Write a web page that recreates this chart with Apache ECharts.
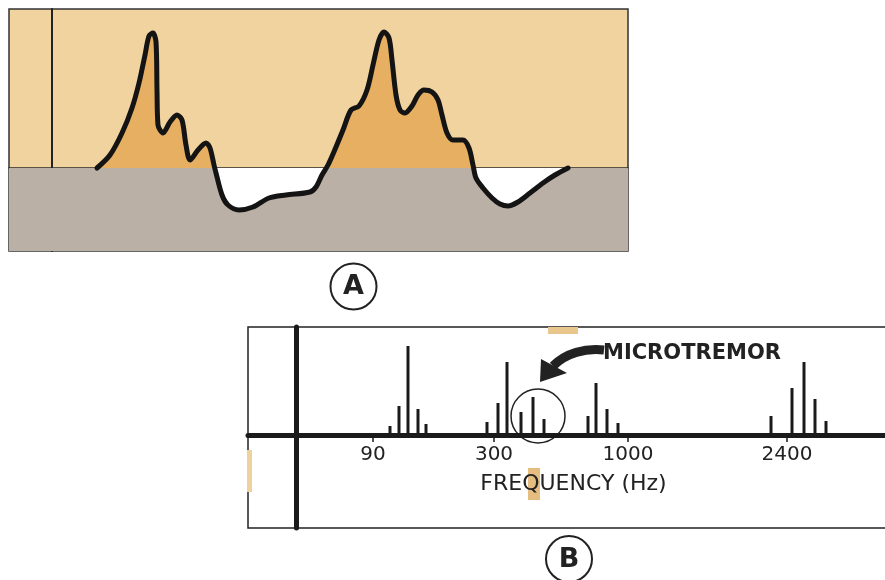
<!DOCTYPE html>
<html><head><meta charset="utf-8">
<script src="https://cdn.jsdelivr.net/npm/echarts@6/dist/echarts.min.js"></script>
<style>html,body{margin:0;padding:0;background:#fff}#c{width:885px;height:580px}</style>
</head><body><div id="c"></div>
<script>
// Panel A: waveform, time (units from the reference line) and amplitude (above baseline)
const waveTime = [45,58,70,80,87,93,97,101,104,105,106,111,118,125,130,134,138,146,154,158,162,164,170,176,187,201,217,234,258,264,270,276,284,291,299,307,315,321,327,332,337,340,344,348,353,360,366,372,380,386,390,395,401,411,417,421,424,431,440,448,456,466,478,491,503,516];
const waveAmp  = [0,13,35,60,85,113,132,135,126,78,43,35,46,53,48,23,8,18,25,20,3,-5,-27,-37,-42,-39,-30,-27,-24,-19,-7,3,21,38,58,62,78,103,128,136,130,108,73,58,55,62,73,78,76,68,53,35,28,28,20,3,-10,-20,-30,-36,-38,-34,-25,-15,-7,0];

// Panel B: spectral lines (position along frequency axis) and heights
const lineSlots   = [94,103,112,122,130, 191,202,211,225,237,248, 292,300,311,322, 475,496,508,519,530];
const lineHeights = [9,29,89,26,11, 13,32,73,23,38,16, 19,52,26,12, 19,47,73,36,14];
const tickSlots  = [77,198,332,491];
const tickLabels = ['90','300','1000','2400'];

const FONT = 'DejaVu Sans';
const TAN = '#f1d39f', ORANGE = '#e6af62', GREY = '#bab0a6', INK = '#1a1a1a';

const chart = echarts.init(document.getElementById('c'), null, {renderer: 'canvas'});
const fillGrad = new echarts.graphic.LinearGradient(0, 9, 0, 251, [
  {offset: 0, color: ORANGE}, {offset: 0.657, color: ORANGE},
  {offset: 0.657, color: '#ffffff'}, {offset: 1, color: '#ffffff'}
], true);

const hiddenAxis = {axisTick: {show: false}, axisLabel: {show: false}, splitLine: {show: false}};

chart.setOption({
  animation: false,
  backgroundColor: '#ffffff',
  grid: [
    {left: 9, width: 619, top: 9, height: 242, show: true, backgroundColor: TAN, borderColor: '#333', borderWidth: 1.5, outerBoundsMode: 'none'},
    {left: 248, width: 651, top: 327, height: 108, show: true, backgroundColor: '#ffffff', borderColor: '#222', borderWidth: 1.5, outerBoundsMode: 'none'},
    {left: 248, width: 651, top: 435, height: 93, show: true, backgroundColor: 'transparent', borderColor: '#222', borderWidth: 1.5, outerBoundsMode: 'none'}
  ],
  xAxis: [
    Object.assign({type: 'value', gridIndex: 0, min: -43, max: 576,
     axisLine: {onZero: true, lineStyle: {color: '#2a2a2a', width: 1.5}}}, hiddenAxis),
    {type: 'value', gridIndex: 1, min: -48, max: 603, position: 'bottom',
     axisLine: {onZero: false, lineStyle: {color: INK, width: 5}},
     axisTick: {show: true, customValues: tickSlots, length: 7, lineStyle: {color: INK, width: 1.5}},
     axisLabel: {show: true, customValues: tickSlots, margin: 10, fontSize: 20, fontFamily: FONT, color: '#222',
       formatter: v => tickLabels[tickSlots.indexOf(v)]},
     splitLine: {show: false},
     name: 'FREQUENCY (Hz)', nameLocation: 'middle', nameGap: 38,
     nameTextStyle: {fontSize: 22, fontFamily: FONT, color: '#222'}},
    Object.assign({type: 'value', gridIndex: 2, min: -48, max: 603, axisLine: {show: false}}, hiddenAxis)
  ],
  yAxis: [
    Object.assign({type: 'value', gridIndex: 0, min: -83, max: 159,
     axisLine: {onZero: true, lineStyle: {color: '#222', width: 2}}}, hiddenAxis),
    Object.assign({type: 'value', gridIndex: 1, min: 0, max: 108,
     axisLine: {onZero: true, lineStyle: {color: INK, width: 5}}}, hiddenAxis),
    Object.assign({type: 'value', gridIndex: 2, min: -93, max: 0,
     axisLine: {onZero: true, lineStyle: {color: INK, width: 5}}}, hiddenAxis)
  ],
  series: [
    {type: 'line', xAxisIndex: 0, yAxisIndex: 0, data: [], silent: true,
     markArea: {silent: true, itemStyle: {color: GREY}, data: [[{yAxis: -83}, {yAxis: 0}]]}},
    {type: 'line', xAxisIndex: 0, yAxisIndex: 0, symbol: 'none', smooth: 0.3,
     data: waveTime.map((t, i) => [t, waveAmp[i]]),
     lineStyle: {color: '#141414', width: 5, join: 'round', cap: 'round'},
     areaStyle: {origin: 0, color: fillGrad, opacity: 1}},
    {type: 'bar', xAxisIndex: 1, yAxisIndex: 1, barWidth: 3,
     data: lineSlots.map((s, i) => [s, lineHeights[i]]),
     itemStyle: {color: INK}},
    {type: 'line', xAxisIndex: 2, yAxisIndex: 2, data: [], silent: true}
  ],
  graphic: [
    {type: 'rect', shape: {x: 548, y: 327, width: 30, height: 7}, style: {fill: '#e9c68c'}},
    {type: 'rect', shape: {x: 528, y: 468, width: 12, height: 32}, style: {fill: '#e6bd80'}},
    {type: 'rect', shape: {x: 247, y: 450, width: 5, height: 42}, style: {fill: '#ecd29c'}},
    {type: 'text', x: 296, y: 223, style: {text: 'TIME', fontFamily: FONT, fontWeight: 'bold', fontSize: 19, fill: '#222', verticalAlign: 'middle'}},
    {type: 'line', shape: {x1: 354, y1: 223, x2: 402, y2: 223}, style: {stroke: '#222', lineWidth: 3}},
    {type: 'polygon', shape: {points: [[399, 217.5], [413, 223], [399, 228.5]]}, style: {fill: '#222'}},
    {type: 'circle', shape: {cx: 353.5, cy: 286.5, r: 23}, style: {fill: 'none', stroke: '#222', lineWidth: 2}},
    {type: 'text', x: 353.5, y: 287, style: {text: 'A', fontFamily: FONT, fontWeight: 'bold', fontSize: 27, fill: '#222', align: 'center', verticalAlign: 'middle'}},
    {type: 'circle', shape: {cx: 569, cy: 559, r: 23}, style: {fill: 'none', stroke: '#222', lineWidth: 2}},
    {type: 'text', x: 569, y: 560, style: {text: 'B', fontFamily: FONT, fontWeight: 'bold', fontSize: 27, fill: '#222', align: 'center', verticalAlign: 'middle'}},
    {type: 'circle', shape: {cx: 538, cy: 416, r: 27}, style: {fill: 'none', stroke: '#222', lineWidth: 1.5}},
    {type: 'bezierCurve', shape: {x1: 604, y1: 350, cpx1: 585, cpy1: 348, cpx2: 566, cpy2: 353, x2: 553, y2: 366}, style: {stroke: '#222', lineWidth: 9, fill: 'none'}},
    {type: 'polygon', shape: {points: [[541, 359], [567, 373], [540, 382]]}, style: {fill: '#222'}},
    {type: 'text', x: 603, y: 354, style: {text: 'MICROTREMOR', fontFamily: FONT, fontWeight: 'bold', fontSize: 21, fill: '#222', verticalAlign: 'middle'}}
  ]
});
</script>
</body></html>
